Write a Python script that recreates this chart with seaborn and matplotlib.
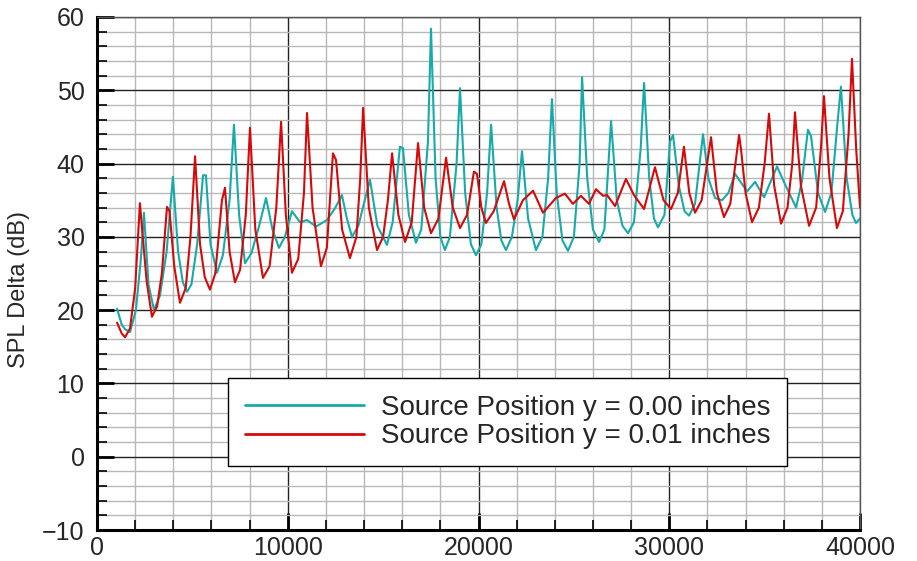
import numpy as np
import pandas as pd
import matplotlib
matplotlib.use("Agg")
import matplotlib.pyplot as plt
import seaborn as sns
from matplotlib.ticker import MultipleLocator

# ---- data: (frequency in Hz, SPL delta in dB) ----
points_y000 = [
    (1050, 20.2), (1300, 18.0), (1470, 17.4), (1730, 17.0), (2040, 20.0), (2300, 27.0),
    (2460, 33.3), (2700, 23.5), (2990, 20.0), (3300, 22.0), (3650, 28.0), (3980, 38.2),
    (4250, 28.0), (4500, 23.8), (4720, 22.5), (4950, 23.5), (5250, 29.0), (5560, 38.4),
    (5710, 38.4), (5950, 29.0), (6290, 25.1), (6600, 27.5), (6950, 35.0), (7180, 45.3),
    (7450, 33.0), (7760, 26.4), (8100, 27.8), (8500, 31.5), (8860, 35.3), (9200, 31.0),
    (9540, 28.5), (9850, 30.0), (10220, 33.5), (10640, 32.0), (11010, 32.3), (11480, 31.4),
    (12060, 32.3), (12500, 34.0), (12840, 35.7), (13100, 32.5), (13370, 30.0), (13700, 31.5),
    (14310, 37.8), (14700, 31.5), (15200, 28.9), (15500, 32.0), (15880, 42.3), (16040, 42.1),
    (16350, 33.0), (16720, 29.2), (17000, 31.0), (17350, 43.0), (17510, 58.4), (17750, 38.0),
    (18000, 30.0), (18240, 28.2), (18500, 30.0), (18850, 40.0), (19030, 50.3), (19300, 36.0),
    (19600, 29.0), (19870, 27.5), (20150, 29.0), (20450, 36.0), (20660, 45.3), (20950, 34.0),
    (21200, 29.5), (21440, 28.2), (21750, 30.0), (22050, 35.0), (22280, 41.7), (22600, 32.5),
    (23010, 28.2), (23350, 30.0), (23650, 38.0), (23850, 48.8), (24100, 36.0), (24400, 29.5),
    (24690, 28.1), (25000, 30.0), (25300, 40.0), (25430, 51.8), (25700, 38.0), (26000, 31.0),
    (26320, 29.3), (26600, 31.0), (26950, 45.8), (27250, 35.0), (27550, 31.5), (27840, 30.5),
    (28150, 32.0), (28500, 42.0), (28680, 51.0), (28950, 38.0), (29200, 32.5), (29410, 31.3),
    (29750, 33.0), (30040, 43.0), (30200, 43.9), (30500, 37.0), (30800, 33.5), (31040, 32.9),
    (31350, 34.5), (31770, 44.0), (32050, 38.0), (32400, 35.3), (32770, 35.0), (33100, 36.0),
    (33450, 38.6), (34080, 36.2), (34500, 37.5), (34970, 35.4), (35650, 39.6), (36100, 37.0),
    (36650, 34.0), (36950, 37.5), (37270, 44.6), (37430, 43.8), (37800, 36.0), (38170, 33.4),
    (38500, 36.0), (38800, 45.0), (39000, 50.5), (39300, 38.0), (39600, 33.0), (39790, 31.9),
    (40000, 32.5),
]
points_y001 = [
    (1050, 18.3), (1300, 16.8), (1470, 16.3), (1730, 17.5), (2000, 23.0), (2250, 34.6),
    (2400, 30.0), (2600, 24.0), (2880, 19.1), (3150, 20.5), (3400, 25.0), (3670, 34.1),
    (3800, 33.5), (4050, 26.0), (4350, 21.0), (4650, 23.0), (4900, 30.0), (5140, 41.0),
    (5400, 29.0), (5650, 24.5), (5920, 22.8), (6200, 25.0), (6550, 35.0), (6710, 36.7),
    (6950, 28.0), (7230, 23.8), (7500, 25.5), (7800, 33.0), (8020, 44.9), (8300, 31.0),
    (8700, 24.4), (9050, 26.0), (9400, 34.0), (9650, 45.7), (9900, 33.0), (10220, 25.1),
    (10550, 27.0), (10850, 36.0), (11010, 46.9), (11300, 34.0), (11740, 26.0), (12050, 28.5),
    (12370, 41.4), (12530, 40.5), (12850, 31.0), (13260, 27.1), (13600, 30.0), (13800, 38.0),
    (13950, 47.6), (14250, 34.0), (14680, 28.2), (15000, 30.0), (15250, 35.0), (15470, 41.4),
    (15800, 33.0), (16150, 29.3), (16500, 32.0), (16830, 42.8), (17150, 34.0), (17510, 30.5),
    (17900, 32.5), (18300, 40.8), (18650, 34.0), (19030, 31.2), (19400, 33.0), (19760, 38.9),
    (19920, 38.6), (20150, 34.0), (20390, 31.9), (20800, 33.5), (21340, 37.6), (21600, 34.5),
    (21860, 32.4), (22330, 35.0), (22860, 36.3), (23380, 33.3), (24060, 35.3), (24530, 35.9),
    (24950, 34.5), (25370, 35.6), (25790, 34.5), (26160, 36.5), (26530, 35.6), (26740, 35.7),
    (27160, 34.2), (27730, 37.9), (28150, 35.7), (28680, 33.8), (29250, 39.5), (29700, 35.0),
    (30090, 33.8), (30450, 36.0), (30770, 42.3), (31050, 36.0), (31350, 33.3), (31700, 35.0),
    (32190, 43.6), (32500, 36.0), (32870, 32.7), (33200, 34.5), (33660, 43.9), (33760, 42.0),
    (34000, 36.0), (34340, 32.0), (34700, 34.0), (35000, 40.0), (35230, 46.8), (35500, 37.0),
    (35860, 31.8), (36200, 34.0), (36450, 40.0), (36590, 47.0), (36900, 37.0), (37330, 31.5),
    (37700, 34.0), (37950, 42.0), (38110, 49.2), (38400, 38.0), (38790, 31.2), (39100, 33.5),
    (39400, 44.0), (39580, 54.3), (39800, 42.0), (40000, 34.0),
]

series_labels = ["Source Position y = 0.00 inches", "Source Position y = 0.01 inches"]
series_colors = ["#17aaaa", "#d40a0a"]
x_ticks = [0, 10000, 20000, 30000, 40000]
y_ticks = [-10, 0, 10, 20, 30, 40, 50, 60]

frames = []
for label, pts in zip(series_labels, [points_y000, points_y001]):
    f, s = zip(*pts)
    frames.append(pd.DataFrame({"freq": f, "spl": s, "series": label}))
df = pd.concat(frames, ignore_index=True)

sns.set_theme(style="white")
plt.rcParams['font.family'] = ['Liberation Sans', 'DejaVu Sans']

fig = plt.figure(figsize=(9.17, 5.61), dpi=100)
ax = fig.add_axes([97 / 917, 1 - 530 / 561, (860 - 97) / 917, (530 - 17) / 561])

sns.lineplot(data=df, x="freq", y="spl", hue="series", palette=series_colors,
             estimator=None, sort=False, linewidth=1.5, ax=ax)

ax.set_xlim(x_ticks[0], x_ticks[-1])
ax.set_ylim(y_ticks[0], y_ticks[-1])
ax.set_xticks(x_ticks)
ax.set_yticks(y_ticks)
ax.xaxis.set_minor_locator(MultipleLocator(2000))
ax.yaxis.set_minor_locator(MultipleLocator(2))
ax.set_axisbelow(True)
ax.grid(which="major", color="#222222", linewidth=1.0)
ax.grid(which="minor", color="#b8b8b8", linewidth=1.0)
ax.tick_params(which="major", direction="in", length=12, width=2, color="black",
               labelsize=18, pad=4, left=True, bottom=True)
ax.tick_params(which="minor", direction="in", length=7, width=1.2, color="black",
               left=True, bottom=True)
ax.tick_params(axis="y", pad=9)

for side in ["left", "bottom"]:
    ax.spines[side].set_color("black")
    ax.spines[side].set_linewidth(2.2)
for side in ["top", "right"]:
    ax.spines[side].set_color("#555555")
    ax.spines[side].set_linewidth(1.0)

ax.set_xlabel("")
ax.set_ylabel("SPL Delta (dB)", fontsize=17)
ax.yaxis.set_label_coords(-(97 - 30) / 763, (530 - 290) / 513)

leg = ax.legend(loc="lower left", bbox_to_anchor=((228 - 97) / 763, (530 - 466) / 513),
                borderaxespad=0, fontsize=20, handlelength=4.3, handletextpad=0.6,
                labelspacing=0.1, borderpad=0.6, frameon=True, fancybox=False,
                framealpha=1, edgecolor="black")
leg.get_frame().set_linewidth(1.0)
for line in leg.get_lines():
    line.set_linewidth(2.0)

fig.savefig("out.png", dpi=100)
